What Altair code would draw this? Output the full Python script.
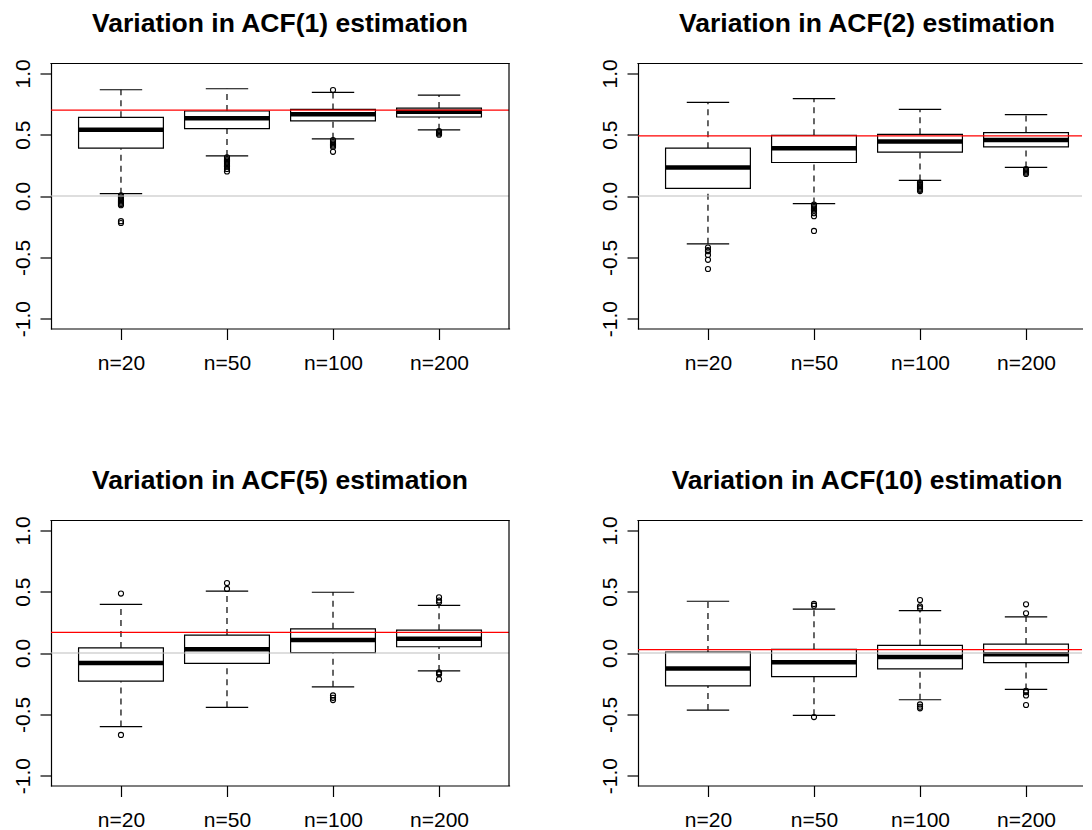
import altair as alt
import pandas as pd

categories = ["n=20", "n=50", "n=100", "n=200"]
titles = ["Variation in ACF(1) estimation", "Variation in ACF(2) estimation",
          "Variation in ACF(5) estimation", "Variation in ACF(10) estimation"]
true_acf = [0.7, 0.49, 0.16807, 0.0282]
y_ticks = [-1.0, -0.5, 0.0, 0.5, 1.0]

# ACF(1)
acf1_lower = [0.019, 0.327, 0.466, 0.539]
acf1_q1 = [0.390, 0.549, 0.612, 0.644]
acf1_med = [0.539, 0.633, 0.666, 0.687]
acf1_q3 = [0.641, 0.693, 0.706, 0.717]
acf1_upper = [0.866, 0.874, 0.844, 0.823]
acf1_out = [
    [0.005, -0.005, -0.015, -0.025, -0.035, -0.045, -0.055, -0.065, -0.075, -0.205, -0.22],
    [0.315, 0.30, 0.29, 0.28, 0.27, 0.26, 0.25, 0.24, 0.22, 0.20],
    [0.863, 0.455, 0.44, 0.43, 0.42, 0.41, 0.40, 0.36],
    [0.53, 0.52, 0.51, 0.50],
]

# ACF(2)
acf2_lower = [-0.390, -0.062, 0.127, 0.233]
acf2_q1 = [0.062, 0.273, 0.357, 0.401]
acf2_med = [0.233, 0.390, 0.444, 0.457]
acf2_q3 = [0.390, 0.495, 0.503, 0.517]
acf2_upper = [0.763, 0.793, 0.706, 0.663]
acf2_out = [
    [-0.42, -0.44, -0.45, -0.48, -0.52, -0.595],
    [-0.07, -0.08, -0.09, -0.10, -0.11, -0.12, -0.14, -0.165, -0.285],
    [0.11, 0.10, 0.09, 0.08, 0.07, 0.06, 0.05, 0.04],
    [0.22, 0.21, 0.20, 0.19, 0.18],
]

# ACF(5)
acf5_lower = [-0.600, -0.443, -0.276, -0.146]
acf5_q1 = [-0.230, -0.084, 0.003, 0.051]
acf5_med = [-0.081, 0.030, 0.105, 0.116]
acf5_q3 = [0.041, 0.146, 0.197, 0.186]
acf5_upper = [0.397, 0.505, 0.495, 0.389]
acf5_out = [
    [0.484, -0.668],
    [0.570, 0.522],
    [-0.346, -0.365, -0.384],
    [0.454, 0.427, 0.414, -0.157, -0.165, -0.173, -0.214],
]

# ACF(10)
acf10_lower = [-0.465, -0.508, -0.381, -0.297]
acf10_q1 = [-0.268, -0.192, -0.130, -0.078]
acf10_med = [-0.127, -0.076, -0.032, -0.010]
acf10_q3 = [0.008, 0.030, 0.062, 0.073]
acf10_upper = [0.422, 0.357, 0.346, 0.295]
acf10_out = [
    [],
    [0.40, 0.386, -0.522],
    [0.432, 0.38, 0.365, -0.419, -0.438, -0.451],
    [0.397, 0.324, -0.308, -0.319, -0.346, -0.424],
]

FONT = "Liberation Sans"
W, H = 458, 265            # full panel plot area
W_RIGHT = 444              # right column is cut by the picture edge
X0, X1 = 0.34, 4.66        # R's boxplot x range (0.5..4.5 with 4% extension)
UNIT = W / (X1 - X0)
YDOM = [-1.08, 1.08]
LW = 1.2

label_js = "[" + ",".join("'%s'" % c for c in categories) + "]"
xaxis = alt.Axis(values=list(range(1, len(categories) + 1)),
                 labelExpr=label_js + "[datum.value - 1]",
                 domain=True, domainColor="black", domainWidth=LW, domainCap="square",
                 grid=False, ticks=True, tickSize=11, tickColor="black",
                 tickWidth=LW, labelFont=FONT, labelFontSize=21, labelColor="black",
                 labelBaseline="alphabetic", labelPadding=30, labelFlush=False,
                 labelOverlap=False, title=None)
yaxis = alt.Axis(values=y_ticks,
                 labelExpr="datum.value < 0 ? '-' + format(-datum.value, '.1f') : format(datum.value, '.1f')",
                 domain=True, domainColor="black", domainWidth=LW, domainCap="square",
                 grid=False, ticks=True, tickSize=11, tickColor="black",
                 tickWidth=LW, labelFont=FONT, labelFontSize=21, labelColor="black",
                 labelAngle=270, labelAlign="center", labelBaseline="alphabetic",
                 labelPadding=10.7, labelFlush=False, labelOverlap=False, title=None)
ys = alt.Scale(domain=YDOM, nice=False, zero=False)


def panel(title, lower, q1, med, q3, upper, outliers, truth, right_col):
    width = W_RIGHT if right_col else W
    xs = alt.Scale(domain=[X0, X0 + width / UNIT], nice=False, zero=False)

    def X(f):
        return alt.X(f, scale=xs, axis=xaxis)

    def Y(f):
        return alt.Y(f, scale=ys, axis=yaxis)

    pos = list(range(1, len(categories) + 1))
    box = pd.DataFrame({"cat": categories, "pos": pos, "lower": lower, "q1": q1,
                        "med": med, "q3": q3, "upper": upper})
    out = pd.DataFrame({"pos": [p for p, vs in zip(pos, outliers) for _ in vs],
                        "v": [v for vs in outliers for v in vs]})
    base = alt.Chart(box).transform_calculate(
        b0="datum.pos - 0.4", b1="datum.pos + 0.4",
        s0="datum.pos - 0.2", s1="datum.pos + 0.2")
    dash = dict(color="black", strokeWidth=LW, strokeDash=[6, 5])
    w_up = base.mark_rule(**dash).encode(x=X("pos:Q"), y=Y("q3:Q"), y2="upper:Q")
    w_lo = base.mark_rule(**dash).encode(x=X("pos:Q"), y=Y("lower:Q"), y2="q1:Q")
    c_up = base.mark_rule(color="black", strokeWidth=LW).encode(x=X("s0:Q"), x2="s1:Q", y=Y("upper:Q"))
    c_lo = base.mark_rule(color="black", strokeWidth=LW).encode(x=X("s0:Q"), x2="s1:Q", y=Y("lower:Q"))
    rect = base.mark_rect(fill="white", stroke="black", strokeWidth=LW).encode(
        x=X("b0:Q"), x2="b1:Q", y=Y("q1:Q"), y2="q3:Q")
    medl = base.mark_rule(color="black", strokeWidth=4.5).encode(x=X("b0:Q"), x2="b1:Q", y=Y("med:Q"))
    pts = alt.Chart(out).mark_point(shape="circle", filled=False, size=26, color="black",
                                    strokeWidth=1.1, opacity=1).encode(x=X("pos:Q"), y=Y("v:Q"))
    zero = alt.Chart(pd.DataFrame({"v": [0.0]})).mark_rule(color="#BEBEBE", strokeWidth=LW).encode(y=Y("v:Q"))
    red = alt.Chart(pd.DataFrame({"v": [truth]})).mark_rule(color="#FF0000", strokeWidth=LW).encode(y=Y("v:Q"))
    top = alt.Chart(pd.DataFrame({"v": [0]})).mark_rule(color="black", strokeWidth=LW, strokeCap="square").encode(
        y=alt.value(0))
    layers = [w_up, w_lo, c_up, c_lo, rect, medl, pts, zero, red, top]
    if not right_col:
        layers.append(alt.Chart(pd.DataFrame({"v": [0]})).mark_rule(
            color="black", strokeWidth=LW, strokeCap="square").encode(x=alt.value(W)))
    tdx = (W - width) / 2
    return alt.layer(*layers).properties(
        width=width, height=H,
        title=alt.TitleParams(title, font=FONT, fontSize=26.5, fontWeight="bold", color="black",
                              anchor="middle", frame="group", baseline="alphabetic",
                              offset=0, dx=tdx))


panels = [
    panel(titles[0], acf1_lower, acf1_q1, acf1_med, acf1_q3, acf1_upper, acf1_out, true_acf[0], False),
    panel(titles[1], acf2_lower, acf2_q1, acf2_med, acf2_q3, acf2_upper, acf2_out, true_acf[1], True),
    panel(titles[2], acf5_lower, acf5_q1, acf5_med, acf5_q3, acf5_upper, acf5_out, true_acf[2], False),
    panel(titles[3], acf10_lower, acf10_q1, acf10_med, acf10_q3, acf10_upper, acf10_out, true_acf[3], True),
]

chart = alt.concat(*panels, columns=2, spacing={"row": 192, "column": 129}, bounds="flush").configure_view(
    stroke=None).properties(
    padding={"left": 4, "top": 2.5, "right": 0, "bottom": 0}, background="white")

chart.save("out.html", embed_options={"renderer": "svg", "actions": False})
